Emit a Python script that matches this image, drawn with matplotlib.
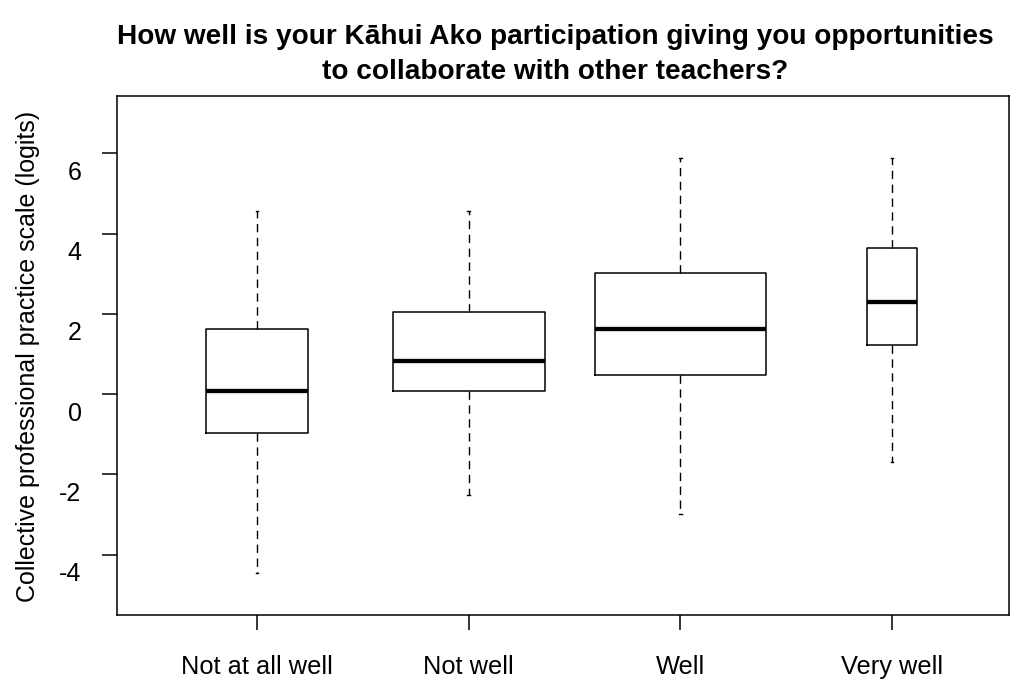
import matplotlib
matplotlib.use('Agg')
import matplotlib.pyplot as plt
from matplotlib.transforms import ScaledTranslation

# five-number summaries per response group (logits)
categories = ["Not at all well", "Not well", "Well", "Very well"]
whisker_low = [-4.46, -2.50, -2.99, -1.68]
q1 = [-0.965, 0.075, 0.47, 1.23]
median = [0.075, 0.83, 1.62, 2.30]
q3 = [1.62, 2.05, 3.01, 3.65]
whisker_high = [4.57, 4.57, 5.88, 5.88]
y_ticks = [-4, -2, 0, 2, 4, 6]

# box widths scale with group size (varwidth style)
box_widths = [0.483, 0.718, 0.808, 0.233]

plt.rcParams['font.family'] = ['Liberation Sans', 'DejaVu Sans']

W, H = 1023, 684
fig = plt.figure(figsize=(W / 100, H / 100), dpi=100)
left, right, top, bottom = 116.7, 1009, 96, 614.5
ax = fig.add_axes([left / W, 1 - bottom / H, (right - left) / W, (bottom - top) / H])

stats = [dict(label=c, whislo=lo, q1=a, med=m, q3=b, whishi=hi, fliers=[])
         for c, lo, a, m, b, hi in zip(categories, whisker_low, q1, median, q3, whisker_high)]
positions = list(range(1, len(categories) + 1))
ax.bxp(stats, positions=positions, widths=box_widths, capwidths=0.012,
       showfliers=False, manage_ticks=False,
       boxprops=dict(color='black', linewidth=1.1),
       medianprops=dict(color='black', linewidth=3.1, solid_capstyle='butt'),
       whiskerprops=dict(color='black', linewidth=1.0, linestyle=(0, (6, 4))),
       capprops=dict(color='black', linewidth=1.0))

ax.set_xlim(0.337, 4.553)
ax.set_ylim(-5.49, 7.43)
for s in ax.spines.values():
    s.set_linewidth(1.1)

ax.set_xticks(positions)
ax.set_xticklabels(categories, fontsize=18.3)
ax.set_yticks(y_ticks)
ax.set_yticklabels([str(t) for t in y_ticks], fontsize=18)
ax.tick_params(axis='both', direction='out', length=10.8, width=1.1)
ax.tick_params(axis='x', pad=18.5)
ax.tick_params(axis='y', pad=14.5)

# y labels sit a little below their ticks
shift = ScaledTranslation(0, -17 / 100, fig.dpi_scale_trans)
for lab in ax.get_yticklabels():
    lab.set_transform(lab.get_transform() + shift)

fig.text(28 / W, 1 - 356.5 / H, "Collective professional practice scale (logits)",
         rotation=90, ha='center', va='center', fontsize=18)

fig.text(555 / W, 1 - 79 / H,
         "How well is your Kāhui Ako participation giving you opportunities\n"
         "to collaborate with other teachers?",
         ha='center', va='baseline', fontsize=20.2, fontweight='bold',
         linespacing=1.45, multialignment='center')

fig.savefig("out.png", dpi=100)
